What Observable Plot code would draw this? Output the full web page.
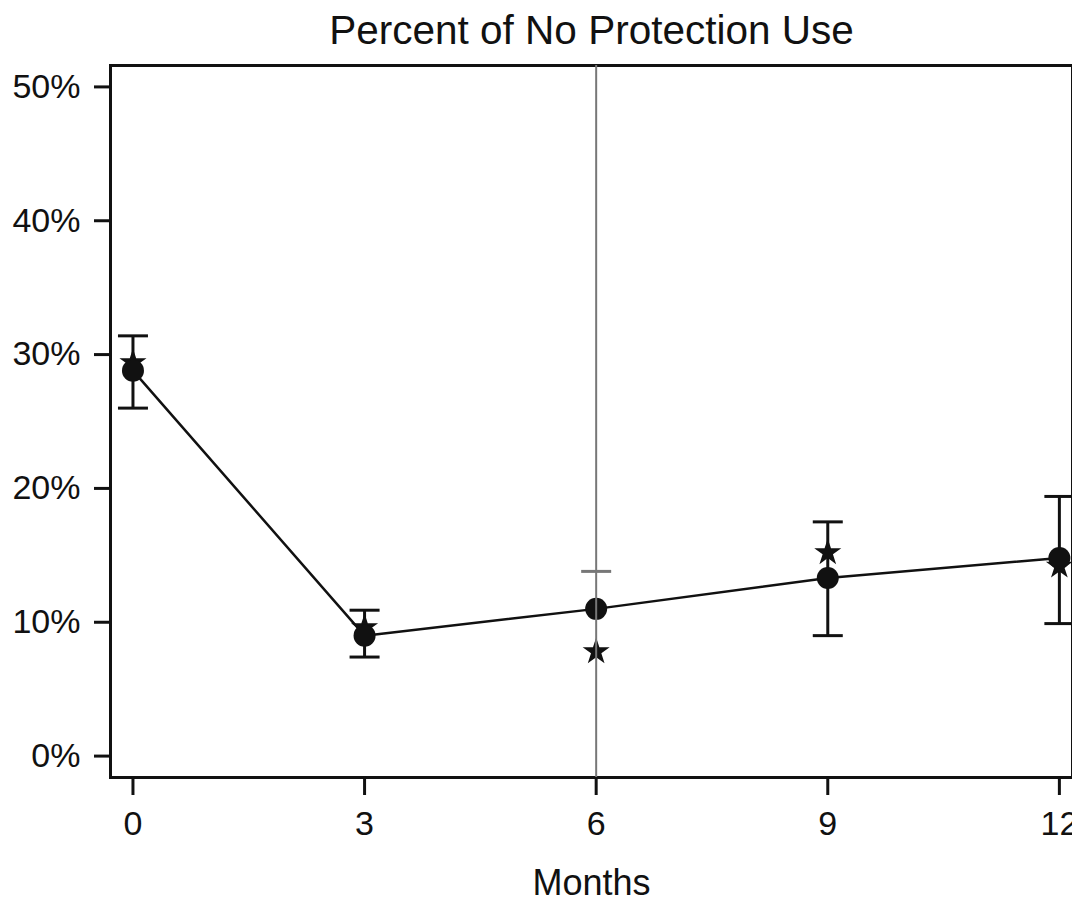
<!DOCTYPE html>
<html><head><meta charset="utf-8">
<script src="https://cdn.jsdelivr.net/npm/d3@7"></script>
<script src="https://cdn.jsdelivr.net/npm/@observablehq/plot@0.6"></script>
<style>
body{margin:0;background:#fff;overflow:hidden}
#chart svg{font-family:"Liberation Sans",Arial,Helvetica,sans-serif;color:#111;background:#fff}
</style>
</head><body><div id="chart"></div>
<script>
const months = [0, 3, 6, 9, 12];
const meanPct = [28.8, 9.0, 11.0, 13.3, 14.8];
const starPct = [29.4, 9.6, 7.8, 15.2, 14.2];
const ciLow = [26.0, 7.4, null, 9.0, 9.9];
const ciHigh = [31.4, 10.9, 13.8, 17.5, 19.4];
const yTicks = [0, 10, 20, 30, 40, 50];
const xTicks = [0, 3, 6, 9, 12];
const refMonth = 6;
const titleText = "Percent of No Protection Use";
const xLabel = "Months";

const data = months.map((m, i) => ({m, mean: meanPct[i], star: starPct[i], lo: ciLow[i], hi: ciHigh[i]}));

const capSymbol = {
  draw(context, size) {
    const r = Math.sqrt(size / Math.PI);
    context.moveTo(-r, 0);
    context.lineTo(r, 0);
  }
};

const chart = Plot.plot({
  width: 1072,
  height: 912,
  marginLeft: 110,
  marginRight: 0,
  marginTop: 65,
  marginBottom: 135,
  x: {domain: [-0.291, 12.17]},
  y: {domain: [-1.6, 51.6]},
  marks: [
    Plot.frame({stroke: "#111", strokeWidth: 3}),
    Plot.axisY(yTicks, {tickSize: 16, tickPadding: 14, tickFormat: d => d + "%", fontSize: 34, strokeWidth: 3, label: null}),
    Plot.axisX(xTicks, {tickSize: 18, tickPadding: 15, fontSize: 34, strokeWidth: 3, label: null}),
    Plot.line(data, {x: "m", y: "mean", stroke: "#111", strokeWidth: 2.5}),
    Plot.ruleX(data.filter(d => d.lo != null), {x: "m", y1: "lo", y2: "hi", stroke: "#111", strokeWidth: 3}),
    Plot.dot(data.filter(d => d.lo != null), {x: "m", y: "lo", symbol: capSymbol, r: 15, stroke: "#111", strokeWidth: 3}),
    Plot.dot(data, {x: "m", y: "hi", symbol: capSymbol, r: 15, stroke: d => d.m === refMonth ? "#777" : "#111", strokeWidth: 3}),
    Plot.dot(data, {x: "m", y: "star", symbol: "star", r: 8.5, fill: "#111", stroke: "none"}),
    Plot.dot(data, {x: "m", y: "mean", symbol: "circle", r: 11, fill: "#111", stroke: "none"}),
    Plot.ruleX([refMonth], {stroke: "#777", strokeWidth: 2}),
    Plot.text([titleText], {frameAnchor: "top", lineAnchor: "middle", dy: -34, fontSize: 40.5, fill: "#111"}),
    Plot.text([xLabel], {frameAnchor: "bottom", lineAnchor: "middle", dy: 106, fontSize: 36, fill: "#111"})
  ]
});
document.getElementById("chart").appendChild(chart);
</script>
</body></html>
